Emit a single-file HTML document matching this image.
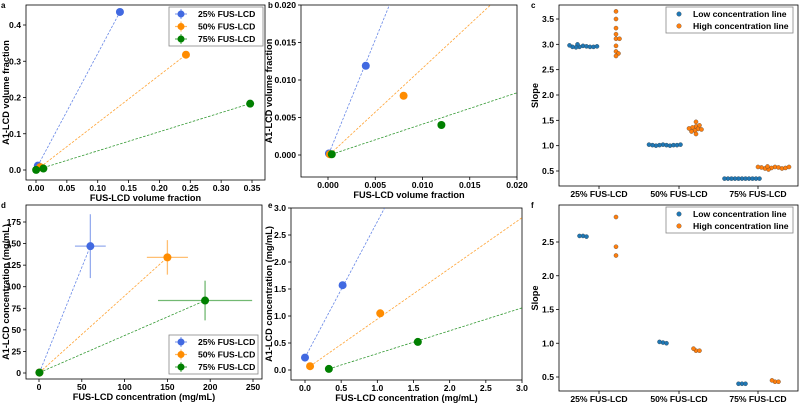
<!DOCTYPE html>
<html><head><meta charset="utf-8"><style>
html,body{margin:0;padding:0;background:#fff;}
svg{display:block;font-family:"Liberation Sans",Arial,sans-serif;font-weight:bold;}
</style></head><body>
<svg id="fig" width="800" height="405" viewBox="0 0 800 405" xmlns="http://www.w3.org/2000/svg"></svg>
<script>
// ---------- data ----------
const seriesNames = ["25% FUS-LCD","50% FUS-LCD","75% FUS-LCD"];
const seriesColors = ["#4169e1","#ff8c00","#008000"];
// panel a: volume fractions [x, y]
const aBlueX=[0.003,0.136], aBlueY=[0.012,0.436];
const aOrangeX=[0.007,0.243], aOrangeY=[0.008,0.318];
const aGreenX=[0.0002,0.347], aGreenY=[0.0002,0.183];
const aGreenLowX=[0.012], aGreenLowY=[0.004];
// panel b: zoomed volume fractions
const bBlueX=[0.0001,0.004], bBlueY=[0.0002,0.0119];
const bOrangeX=[0.0002,0.008], bOrangeY=[0.0001,0.0079];
const bGreenX=[0.0004,0.012], bGreenY=[0.0001,0.0040];
const bLineEnd=[[0.0065,0.0200],[0.0172,0.0200],[0.0200,0.0083]];
// panel d: concentrations with errors
const dX=[[0.5,60],[0.5,150],[0.5,194]];
const dY=[[0.5,147],[0.5,134],[0.5,84]];
const dXerr=[18,24,55];
const dYerr=[37,20,23];
// panel e: low concentration
const eX=[[0.0,0.52],[0.07,1.04],[0.33,1.56]];
const eY=[[0.23,1.57],[0.07,1.05],[0.02,0.52]];
const eLineEnd=[[1.1,3.0],[3.0,2.82],[3.0,1.15]];
// panel c slopes
const categories=["25% FUS-LCD","50% FUS-LCD","75% FUS-LCD"];
const cLow=[[2.97,2.96,2.95,3.00,2.95,2.94,2.95,2.95,2.96,2.98],
            [1.02,1.01,1.01,1.00,1.00,1.01,1.01,1.01,1.02,1.02],
            [0.35,0.35,0.35,0.35,0.35,0.35,0.35,0.35,0.35,0.35,0.35]];
const cHigh=[[3.65,3.50,3.32,3.20,3.11,3.11,2.97,2.86,2.82,2.77],
             [1.47,1.38,1.40,1.36,1.33,1.30,1.32,1.28,1.34,1.23],
             [0.58,0.57,0.56,0.55,0.53,0.55,0.56,0.57,0.58,0.59,0.58]];
// panel f slopes
const fLow=[[2.59,2.58,2.59],[1.01,1.00,1.02],[0.40,0.40,0.40]];
const fHigh=[[2.87,2.43,2.30],[0.89,0.89,0.92],[0.43,0.43,0.45]];
// ticks
const aXTicks=[0,0.05,0.10,0.15,0.20,0.25,0.30,0.35], aXLab=["0.00","0.05","0.10","0.15","0.20","0.25","0.30","0.35"];
const aYTicks=[0,0.1,0.2,0.3,0.4], aYLab=["0.0","0.1","0.2","0.3","0.4"];
const bXTicks=[0,0.005,0.01,0.015,0.02], bXLab=["0.000","0.005","0.010","0.015","0.020"];
const bYTicks=[0,0.005,0.01,0.015,0.02], bYLab=["0.000","0.005","0.010","0.015","0.020"];
const cYTicks=[0.5,1,1.5,2,2.5,3,3.5], cYLab=["0.5","1.0","1.5","2.0","2.5","3.0","3.5"];
const dXTicks=[0,50,100,150,200,250], dXLab=["0","50","100","150","200","250"];
const dYTicks=[0,25,50,75,100,125,150,175], dYLab=["0","25","50","75","100","125","150","175"];
const eXTicks=[0,0.5,1,1.5,2,2.5,3], eXLab=["0.0","0.5","1.0","1.5","2.0","2.5","3.0"];
const eYTicks=[0,0.5,1,1.5,2,2.5,3], eYLab=["0.0","0.5","1.0","1.5","2.0","2.5","3.0"];
const fYTicks=[0.5,1,1.5,2,2.5], fYLab=["0.5","1.0","1.5","2.0","2.5"];

const NS="http://www.w3.org/2000/svg";
const svg=document.getElementById('fig');
const TICK=8.6, TITLE=9.2, LEG=8.6;
function el(tag,attrs,parent){const e=document.createElementNS(NS,tag);for(const k in attrs)e.setAttribute(k,attrs[k]);(parent||svg).appendChild(e);return e;}
function txt(s,x,y,size,anchor,parent,rot){const t=el('text',{x:x,y:y,'font-size':size,'text-anchor':anchor||'middle',fill:'#000'},parent);if(rot)t.setAttribute('transform','rotate(-90 '+x+' '+y+')');t.textContent=s;return t;}
function lin(d0,d1,p0,p1){return v=>p0+(v-d0)*(p1-p0)/(d1-d0);}

function panel(name,box,letter,xs,ys,xt,xl,yt,yl,xtitle,ytitle,ytx){
  const g=el('g',{});
  
  
  const fr=el('rect',{x:box.l,y:box.t,width:box.r-box.l,height:box.b-box.t,fill:'none',stroke:'#000','stroke-width':0.8},g);
  
  
  if(xt) xt.forEach((v,i)=>{const x=xs(v);el('line',{x1:x,x2:x,y1:box.b,y2:box.b+3,stroke:'#000','stroke-width':0.8},g);
    const t=txt(xl[i],x,box.b+11,TICK,'middle',g);});
  yt.forEach((v,i)=>{const y=ys(v);el('line',{x1:box.l-3,x2:box.l,y1:y,y2:y,stroke:'#000','stroke-width':0.8},g);
    const t=txt(yl[i],box.l-5,y+3,TICK,'end',g);});
  if(xtitle){const t=txt(xtitle,(box.l+box.r)/2,box.b+21,TITLE,'middle',g);}
  const yt2=txt(ytitle,ytx,(box.t+box.b)/2,TITLE,'middle',g,true);
  
  const lt=txt(letter,box.letterX,box.letterY,8,'start',g);
  
  const clip=el('clipPath',{id:'clip-'+name},g);el('rect',{x:box.l,y:box.t,width:box.r-box.l,height:box.b-box.t},clip);
  const inner=el('g',{'clip-path':'url(#clip-'+name+')'},g);
  return {g,inner};
}
function dashed(p,x1,y1,x2,y2,c){const l=el('line',{x1:x1,y1:y1,x2:x2,y2:y2,stroke:c,'stroke-width':0.8,'stroke-dasharray':'2.5,1.5',opacity:0.8},p);}
function dot(p,x,y,c,r){const d=el('circle',{cx:x,cy:y,r:r||4,fill:c},p);return d;}
function legendErr(p,lx,ly,w,h){
  const lg=el('g',{},p);
  el('rect',{x:lx,y:ly,width:w,height:h,fill:'#fff',stroke:'#888','stroke-width':0.8},lg);
  seriesNames.forEach((n,i)=>{const y=ly+7+i*12.5;const c=seriesColors[i];
    el('line',{x1:lx+6,x2:lx+18,y1:y,y2:y,stroke:c,'stroke-width':1.2,opacity:0.6},lg);
    el('line',{x1:lx+12,x2:lx+12,y1:y-5,y2:y+5,stroke:c,'stroke-width':1.2,opacity:0.6},lg);
    el('circle',{cx:lx+12,cy:y,r:3.5,fill:c},lg);
    const t=txt(n,lx+29,y+3,LEG,'start',lg);});
}
function legendSlope(p,lx,ly){
  const lg=el('g',{},p);
  el('rect',{x:lx,y:ly,width:127,height:26,fill:'#fff',stroke:'#888','stroke-width':0.8},lg);
  [["Low concentration line","#1f77b4"],["High concentration line","#ff7f0e"]].forEach((e,i)=>{const y=ly+7+i*12;
    el('circle',{cx:lx+13,cy:y,r:2.3,fill:e[1],stroke:'#333','stroke-width':0.3},lg);
    const t=txt(e[0],lx+27,y+3,LEG,'start',lg);});
}

// ---------- panel a ----------
{const box={l:26,r:265,t:5,b:180,letterX:1,letterY:8};
 const xs=lin(0,0.35,36,252), ys=lin(0,0.4,170,25);
 const P=panel('a',box,'a',xs,ys,aXTicks,aXLab,aYTicks,aYLab,'FUS-LCD volume fraction','A1-LCD volume fraction',9);
 const X=[aBlueX,aOrangeX,aGreenX],Y=[aBlueY,aOrangeY,aGreenY];
 for(let i=0;i<3;i++){dashed(P.inner,xs(X[i][0]),ys(Y[i][0]),xs(X[i][1]),ys(Y[i][1]),seriesColors[i]);}
 for(let i=0;i<3;i++){for(let j=0;j<2;j++)dot(P.inner,xs(X[i][j]),ys(Y[i][j]),seriesColors[i]);}
 dot(P.inner,xs(aGreenLowX[0]),ys(aGreenLowY[0]),seriesColors[2]);
 legendErr(P.g,169,7,94,39);}

// ---------- panel b ----------
{const box={l:301,r:517,t:5,b:177,letterX:268,letterY:8};
 const xs=lin(0,0.02,328,517), ys=lin(0,0.02,155,5);
 const P=panel('b',box,'b',xs,ys,bXTicks,bXLab,bYTicks,bYLab,'FUS-LCD volume fraction','A1-LCD volume fraction',272);
 const X=[bBlueX,bOrangeX,bGreenX],Y=[bBlueY,bOrangeY,bGreenY];
 for(let i=0;i<3;i++)dashed(P.inner,xs(X[i][0]),ys(Y[i][0]),xs(bLineEnd[i][0]),ys(bLineEnd[i][1]),seriesColors[i]);
 for(let i=0;i<3;i++)for(let j=0;j<2;j++)dot(P.inner,xs(X[i][j]),ys(Y[i][j]),seriesColors[i]);}

// ---------- panel d ----------
{const box={l:26,r:262,t:205,b:379,letterX:1,letterY:208};
 const xs=lin(0,250,39,253), ys=lin(0,175,373,222);
 const P=panel('d',box,'d',xs,ys,dXTicks,dXLab,dYTicks,dYLab,'FUS-LCD concentration (mg/mL)','A1-LCD concentration (mg/mL)',9);
 for(let i=0;i<3;i++)dashed(P.inner,xs(dX[i][0]),ys(dY[i][0]),xs(dX[i][1]),ys(dY[i][1]),seriesColors[i]);
 for(let i=0;i<3;i++){const c=seriesColors[i],x=dX[i][1],y=dY[i][1];
   const e1=el('line',{x1:xs(x-dXerr[i]),x2:xs(x+dXerr[i]),y1:ys(y),y2:ys(y),stroke:c,'stroke-width':1.3,opacity:0.55},P.inner);
   
   const e2=el('line',{x1:xs(x),x2:xs(x),y1:ys(y-dYerr[i]),y2:ys(y+dYerr[i]),stroke:c,'stroke-width':1.3,opacity:0.55},P.inner);
   
   dot(P.inner,xs(x),ys(y),c); dot(P.inner,xs(dX[i][0]),ys(dY[i][0]),c);}
 legendErr(P.g,169,335,89,39);}

// ---------- panel e ----------
{const box={l:291,r:522,t:208,b:380,letterX:268,letterY:208};
 const xs=lin(0,3,305,522), ys=lin(0,3,370,208);
 const P=panel('e',box,'e',xs,ys,eXTicks,eXLab,eYTicks,eYLab,'FUS-LCD concentration (mg/mL)','A1-LCD concentration (mg/mL)',272);
 for(let i=0;i<3;i++)dashed(P.inner,xs(eX[i][0]),ys(eY[i][0]),xs(eLineEnd[i][0]),ys(eLineEnd[i][1]),seriesColors[i]);
 for(let i=0;i<3;i++)for(let j=0;j<2;j++)dot(P.inner,xs(eX[i][j]),ys(eY[i][j]),seriesColors[i]);}

// ---------- slope panels ----------
const catX=[599,679,758];
function swarm(vals,ys,r){ // simple beeswarm: returns x offsets
  const placed=[];const out=new Array(vals.length);
  vals.map((v,i)=>[ys(v),i]).forEach(([y,i])=>{
    let best=0;for(let k=0;k<80;k++){const cands=k===0?[0]:[k*0.5,-k*0.5];let ok=null;
      for(const o of cands){if(placed.every(p=>Math.hypot(p[0]-o,p[1]-y)>=2*r)){ok=o;break;}}
      if(ok!==null){best=ok;break;}}
    placed.push([best,y]);out[i]=best;});
  return out;}
function slopePanel(name,letter,box,ys,yt,yl,low,high,lowOff,highOff){
  const P=panel(name,box,letter,null,ys,null,null,yt,yl,null,'Slope',538);
  catX.forEach((x,i)=>{el('line',{x1:x,x2:x,y1:box.b,y2:box.b+3,stroke:'#000','stroke-width':0.8},P.g);
    const t=txt(categories[i],x,box.b+11,TICK,'middle',P.g);});
  for(let c=0;c<3;c++){
    [[low[c],lowOff,'#1f77b4'],[high[c],highOff,'#ff7f0e']].forEach(([vals,off,col])=>{
      const offs=swarm(vals,ys,1.6);
      vals.forEach((v,i)=>{const d=el('circle',{cx:catX[c]+off+offs[i],cy:ys(v),r:2.1,fill:col,stroke:'#333','stroke-width':0.3},P.inner);
        });});}
  legendSlope(P.g,666,box.t+2);
}
slopePanel('c','c',{l:559,r:798,t:5,b:186,letterX:531,letterY:8},lin(0.5,3.5,171,19),cYTicks,cYLab,cLow,cHigh,-16,17);
slopePanel('f','f',{l:559,r:798,t:205,b:391,letterX:531,letterY:208},lin(0.5,2.5,377,242),fYTicks,fYLab,fLow,fHigh,-16,17);
</script>
</body></html>
